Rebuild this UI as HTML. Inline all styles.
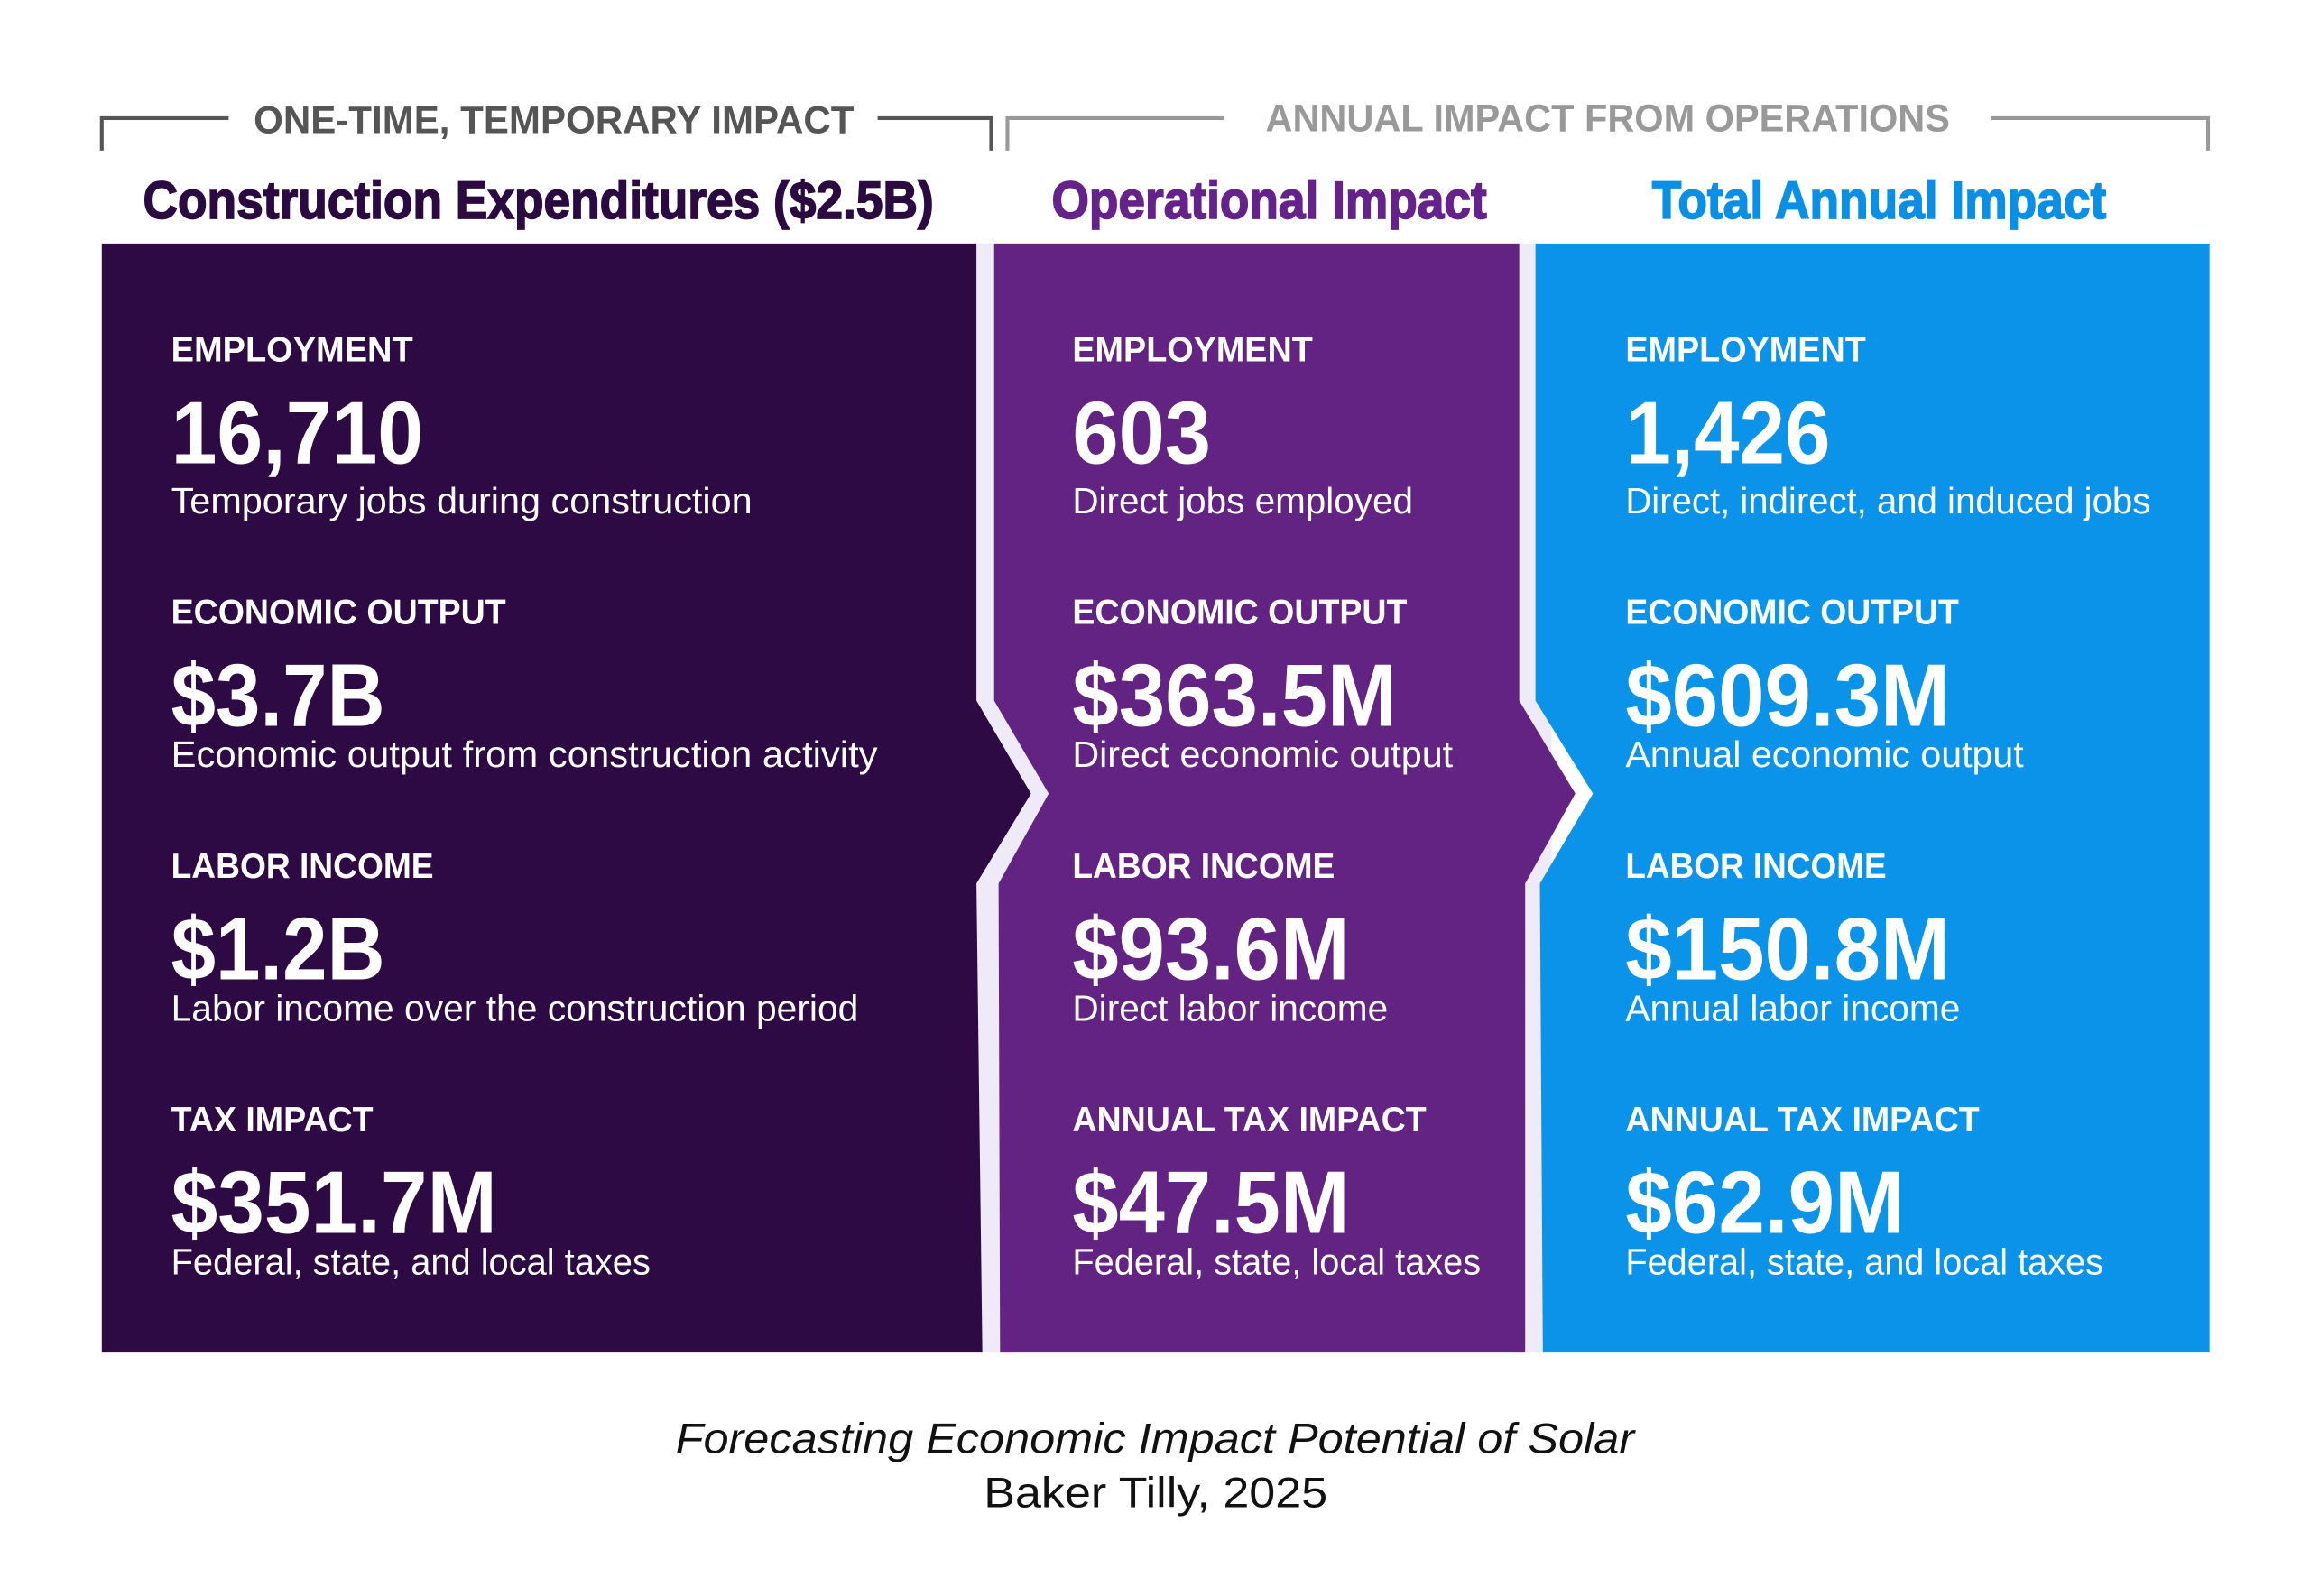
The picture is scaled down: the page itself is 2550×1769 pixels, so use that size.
<!DOCTYPE html>
<html><head><meta charset="utf-8"><style>
html,body{margin:0;padding:0;background:#fff;}
svg{display:block;}
text{font-family:"Liberation Sans",sans-serif;}
</style></head><body>
<svg width="2550" height="1769" viewBox="0 0 1560 1082" xmlns="http://www.w3.org/2000/svg">
<rect width="1560" height="1082" fill="#fff"/>
<!-- brackets -->
<g fill="none" stroke-width="2.5">
<polyline points="69,102 69,80 155,80" stroke="#555"/>
<polyline points="595,80 672,80 672,102" stroke="#555"/>
<polyline points="683,102 683,80 830,80" stroke="#999"/>
<polyline points="1350,80 1497,80 1497,102" stroke="#999"/>
</g>
<text x="172" y="90" font-size="26" font-weight="bold" fill="#555" textLength="407" lengthAdjust="spacingAndGlyphs">ONE-TIME, TEMPORARY IMPACT</text>
<text x="858" y="89" font-size="26" font-weight="bold" fill="#999" textLength="464" lengthAdjust="spacingAndGlyphs">ANNUAL IMPACT FROM OPERATIONS</text>
<g font-size="36" font-weight="bold" stroke-width="1">
<text x="97" y="148" fill="#2a0a40" stroke="#2a0a40" textLength="536" lengthAdjust="spacingAndGlyphs">Construction Expenditures ($2.5B)</text>
<text x="713" y="148" fill="#64228a" stroke="#64228a" textLength="295" lengthAdjust="spacingAndGlyphs">Operational Impact</text>
<text x="1120" y="148" fill="#0b8fe5" stroke="#0b8fe5" textLength="308" lengthAdjust="spacingAndGlyphs">Total Annual Impact</text>
</g>
<!-- panels -->
<rect x="662" y="165" width="390" height="752" fill="#eeeaf8"/>
<polygon points="69,165 662,165 662,475 699,538 662,599 666,917 69,917" fill="#2e0a45"/>
<polygon points="674,165 1030,165 1030,475 1068,538 1034,599 1034,917 678,917 677,599 711,538 674,475" fill="#632383"/>
<polygon points="1041,165 1498,165 1498,917 1046,917 1044,599 1080,538 1041,475" fill="#0a93e8"/>
<g fill="#fff">
<g font-size="24" font-weight="bold">
<text x="116" y="245" textLength="164" lengthAdjust="spacingAndGlyphs">EMPLOYMENT</text>
<text x="116" y="423" textLength="227" lengthAdjust="spacingAndGlyphs">ECONOMIC OUTPUT</text>
<text x="116" y="595" textLength="178" lengthAdjust="spacingAndGlyphs">LABOR INCOME</text>
<text x="116" y="767" textLength="137" lengthAdjust="spacingAndGlyphs">TAX IMPACT</text>
<text x="727" y="245" textLength="163" lengthAdjust="spacingAndGlyphs">EMPLOYMENT</text>
<text x="727" y="423" textLength="227" lengthAdjust="spacingAndGlyphs">ECONOMIC OUTPUT</text>
<text x="727" y="595" textLength="178" lengthAdjust="spacingAndGlyphs">LABOR INCOME</text>
<text x="727" y="767" textLength="240" lengthAdjust="spacingAndGlyphs">ANNUAL TAX IMPACT</text>
<text x="1102" y="245" textLength="163" lengthAdjust="spacingAndGlyphs">EMPLOYMENT</text>
<text x="1102" y="423" textLength="226" lengthAdjust="spacingAndGlyphs">ECONOMIC OUTPUT</text>
<text x="1102" y="595" textLength="177" lengthAdjust="spacingAndGlyphs">LABOR INCOME</text>
<text x="1102" y="767" textLength="240" lengthAdjust="spacingAndGlyphs">ANNUAL TAX IMPACT</text>
</g>
<g font-size="60" font-weight="bold">
<text x="116" y="314" textLength="171" lengthAdjust="spacingAndGlyphs">16,710</text>
<text x="116" y="492" textLength="145" lengthAdjust="spacingAndGlyphs">$3.7B</text>
<text x="116" y="664" textLength="145" lengthAdjust="spacingAndGlyphs">$1.2B</text>
<text x="116" y="836" textLength="221" lengthAdjust="spacingAndGlyphs">$351.7M</text>
<text x="727" y="314" textLength="94" lengthAdjust="spacingAndGlyphs">603</text>
<text x="727" y="492" textLength="220" lengthAdjust="spacingAndGlyphs">$363.5M</text>
<text x="727" y="664" textLength="188" lengthAdjust="spacingAndGlyphs">$93.6M</text>
<text x="727" y="836" textLength="188" lengthAdjust="spacingAndGlyphs">$47.5M</text>
<text x="1102" y="314" textLength="139" lengthAdjust="spacingAndGlyphs">1,426</text>
<text x="1102" y="492" textLength="220" lengthAdjust="spacingAndGlyphs">$609.3M</text>
<text x="1102" y="664" textLength="220" lengthAdjust="spacingAndGlyphs">$150.8M</text>
<text x="1102" y="836" textLength="189" lengthAdjust="spacingAndGlyphs">$62.9M</text>
</g>
<g font-size="25">
<text x="116" y="348" textLength="394" lengthAdjust="spacingAndGlyphs">Temporary jobs during construction</text>
<text x="116" y="520" textLength="479" lengthAdjust="spacingAndGlyphs">Economic output from construction activity</text>
<text x="116" y="692" textLength="466" lengthAdjust="spacingAndGlyphs">Labor income over the construction period</text>
<text x="116" y="864" textLength="325" lengthAdjust="spacingAndGlyphs">Federal, state, and local taxes</text>
<text x="727" y="348" textLength="231" lengthAdjust="spacingAndGlyphs">Direct jobs employed</text>
<text x="727" y="520" textLength="258" lengthAdjust="spacingAndGlyphs">Direct economic output</text>
<text x="727" y="692" textLength="214" lengthAdjust="spacingAndGlyphs">Direct labor income</text>
<text x="727" y="864" textLength="277" lengthAdjust="spacingAndGlyphs">Federal, state, local taxes</text>
<text x="1102" y="348" textLength="356" lengthAdjust="spacingAndGlyphs">Direct, indirect, and induced jobs</text>
<text x="1102" y="520" textLength="270" lengthAdjust="spacingAndGlyphs">Annual economic output</text>
<text x="1102" y="692" textLength="227" lengthAdjust="spacingAndGlyphs">Annual labor income</text>
<text x="1102" y="864" textLength="324" lengthAdjust="spacingAndGlyphs">Federal, state, and local taxes</text>
</g>
</g>
<text x="458" y="985" font-size="29" font-style="italic" fill="#111" textLength="650" lengthAdjust="spacingAndGlyphs">Forecasting Economic Impact Potential of Solar</text>
<text x="667" y="1022" font-size="29" fill="#111" textLength="233" lengthAdjust="spacingAndGlyphs">Baker Tilly, 2025</text>
</svg>
</body></html>
